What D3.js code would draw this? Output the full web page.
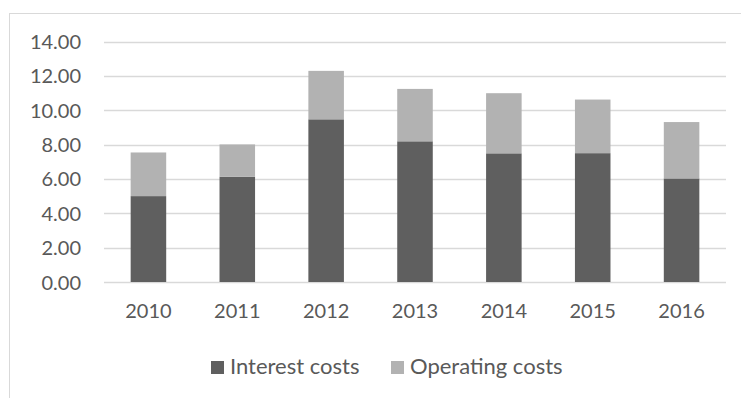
<!DOCTYPE html>
<html>
<head>
<meta charset="utf-8">
<script src="https://cdn.jsdelivr.net/npm/d3@7"></script>
<style>
  html, body { margin: 0; padding: 0; background: #fff; }
  svg { display: block; }
  text { font-family: Lato, "Open Sans", sans-serif; fill: #595959; }
</style>
</head>
<body>
<svg id="chart" width="741" height="398"></svg>
<script>
// Yearly cost breakdown (stacked)
const years = ["2010", "2011", "2012", "2013", "2014", "2015", "2016"];
const interestCosts = [5.00, 6.13, 9.47, 8.19, 7.49, 7.50, 6.03];
const operatingCosts = [2.54, 1.88, 2.82, 3.05, 3.50, 3.12, 3.28];
const seriesNames = ["Interest costs", "Operating costs"];
const seriesColors = ["#5f5f5f", "#b2b2b2"];
const yTicks = [0, 2, 4, 6, 8, 10, 12, 14];

const svg = d3.select("#chart");

// outer chart-area frame (extends past the right and bottom edges)
svg.append("rect")
  .attr("x", 9.5).attr("y", 13.5)
  .attr("width", 760).attr("height", 420)
  .attr("fill", "#fff")
  .attr("stroke", "#d9d9d9")
  .attr("stroke-width", 1);

const plot = { left: 104, right: 726, top: 41.5, bottom: 282 };

const x = d3.scaleBand()
  .domain(years)
  .range([plot.left, plot.right])
  .paddingInner(0.6)
  .paddingOuter(0.3);

const y = d3.scaleLinear()
  .domain([0, 14])
  .range([plot.bottom, plot.top]);

// horizontal gridlines
svg.append("g")
  .selectAll("line")
  .data(yTicks)
  .join("line")
  .attr("x1", plot.left).attr("x2", plot.right)
  .attr("y1", d => Math.round(y(d)) + 0.5)
  .attr("y2", d => Math.round(y(d)) + 0.5)
  .attr("stroke", "#d9d9d9")
  .attr("stroke-width", 1.3);

// stacked bars
const rows = years.map((yr, i) => ({ year: yr, interest: interestCosts[i], operating: operatingCosts[i] }));
const stack = d3.stack().keys(["interest", "operating"])(rows);

svg.append("g")
  .selectAll("g")
  .data(stack)
  .join("g")
  .attr("fill", (d, i) => seriesColors[i])
  .selectAll("rect")
  .data(d => d)
  .join("rect")
  .attr("x", d => x(d.data.year))
  .attr("width", x.bandwidth())
  .attr("y", d => y(d[1]))
  .attr("height", d => y(d[0]) - y(d[1]));

// y axis labels
const yAxis = d3.axisLeft(y)
  .tickValues(yTicks)
  .tickFormat(d3.format(".2f"))
  .tickSize(0)
  .tickPadding(0);

const gy = svg.append("g")
  .attr("transform", `translate(81,0)`)
  .call(yAxis);
gy.select(".domain").remove();
gy.selectAll("text")
  .attr("font-size", 20)
  .attr("fill", "#595959")
  .attr("dy", "0.35em");

// x axis labels
const xAxis = d3.axisBottom(x).tickSize(0).tickPadding(0);
const gx = svg.append("g")
  .attr("transform", `translate(0,${plot.bottom})`)
  .call(xAxis);
gx.select(".domain").remove();
gx.selectAll("text")
  .attr("font-size", 20)
  .attr("fill", "#595959")
  .attr("dy", null)
  .attr("y", 31)
  .attr("dominant-baseline", "middle");

// legend
const legendItems = [
  { name: seriesNames[0], color: seriesColors[0], x: 211 },
  { name: seriesNames[1], color: seriesColors[1], x: 391 }
];
const lg = svg.append("g");
const item = lg.selectAll("g")
  .data(legendItems)
  .join("g")
  .attr("transform", d => `translate(${d.x},361)`);
item.append("rect")
  .attr("width", 13).attr("height", 13)
  .attr("fill", d => d.color);
item.append("text")
  .attr("x", 19)
  .attr("y", 7)
  .attr("dominant-baseline", "middle")
  .attr("font-size", 22)
  .text(d => d.name);
</script>
</body>
</html>
